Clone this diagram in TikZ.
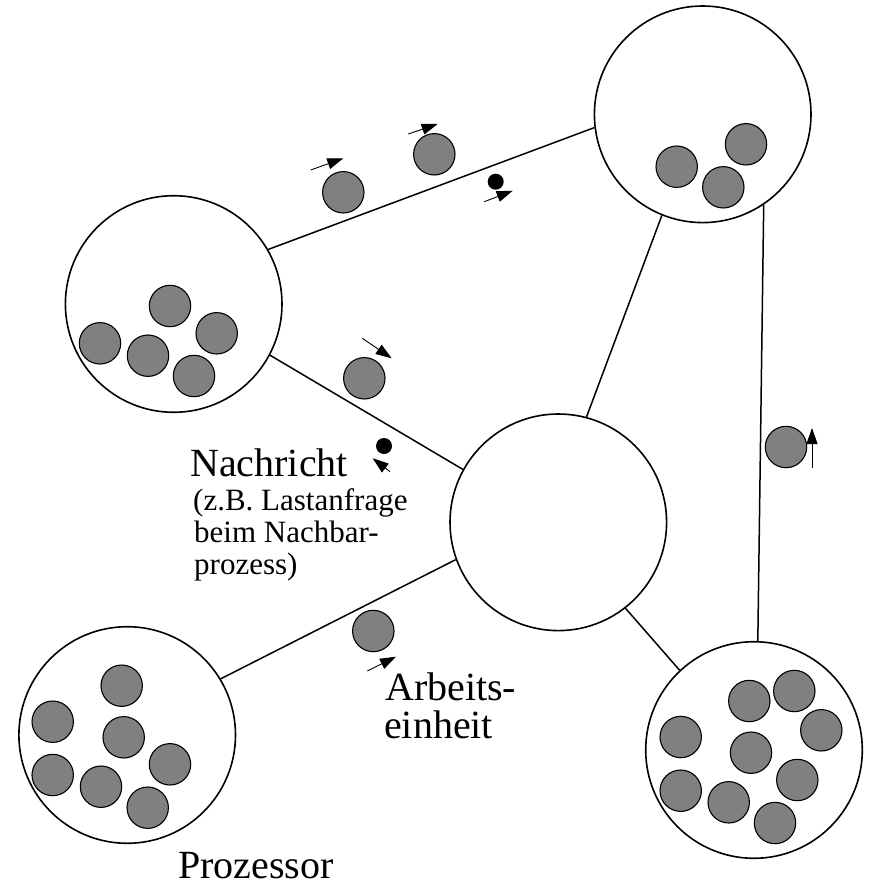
\documentclass[tikz,border=0pt]{standalone}
\usepackage{fontspec}
\setmainfont{Liberation Serif}
\usetikzlibrary{arrows.meta}
\definecolor{unitgray}{HTML}{808080}
\begin{document}
\begin{tikzpicture}[x=1pt,y=-1pt,
  proc/.style={circle,draw,line width=1.6pt,minimum size=216.6pt,inner sep=0pt},
  unit/.style={circle,draw=black,line width=1.1pt,fill=unitgray,minimum size=41.4pt,inner sep=0pt},
  msg/.style={circle,fill=black,minimum size=16pt,inner sep=0pt},
  link/.style={line width=1.5pt},
  move/.style={line width=0.9pt,-{Triangle[length=16pt,width=11pt]}},
  big/.style={font=\fontsize{40}{44}\selectfont,inner sep=0pt,anchor=base west},
  small/.style={font=\fontsize{31}{34}\selectfont,inner sep=0pt,anchor=base west}]
\useasboundingbox (0,0) rectangle (869,882);

% processors
\node[proc] (L)  at (173.7,304) {};
\node[proc] (TR) at (702.7,114.3) {};
\node[proc] (C)  at (558.3,522.3) {};
\node[proc] (BL) at (127.2,735) {};
\node[proc] (BR) at (754,750) {};

% links
\draw[link] (L.30.4) -- (TR.187.4);
\draw[link] (L.332.5) -- (C.151.3);
\draw[link] (TR.248.8) -- (C.75.3);
\draw[link] (TR.304.7) -- (BR.88.2);
\draw[link] (C.308.5) -- (BR.133);
\draw[link] (BL.31.7) -- (C.200);

% work units in L
\node[unit] (l1) at (170,306) {};
\node[unit] (l2) at (216.7,333.3) {};
\node[unit] (l3) at (100,343.3) {};
\node[unit] (l4) at (148,355.7) {};
\node[unit] (l5) at (194,376) {};
% work units in TR
\node[unit] (t1) at (676.7,166.7) {};
\node[unit] (t2) at (746,144.3) {};
\node[unit] (t3) at (723.3,187.3) {};
% work units in BL
\node[unit] (b1) at (121.7,685.7) {};
\node[unit] (b2) at (52.7,721.7) {};
\node[unit] (b3) at (123.7,737.3) {};
\node[unit] (b4) at (170,764.3) {};
\node[unit] (b5) at (52.7,775) {};
\node[unit] (b6) at (101,786.7) {};
\node[unit] (b7) at (147.7,807.7) {};
% work units in BR
\node[unit] (r1) at (749.3,701) {};
\node[unit] (r2) at (794.3,691) {};
\node[unit] (r3) at (821.3,730.3) {};
\node[unit] (r4) at (680.7,737) {};
\node[unit] (r5) at (751,752.7) {};
\node[unit] (r6) at (797.3,780) {};
\node[unit] (r7) at (680.7,790.7) {};
\node[unit] (r8) at (728.7,802.3) {};
\node[unit] (r9) at (775,823) {};

% travelling units and messages
\node[unit] (m1) at (343.3,192.3) {};
\node[unit] (m2) at (434.3,154.3) {};
\node[unit] (m3) at (364.3,378.3) {};
\node[unit] (m4) at (373.3,631) {};
\node[unit] (m5) at (786,447) {};
\node[msg] (n1) at (495.7,181.7) {};
\node[msg] (n2) at (384,446) {};

% motion arrows
\coordinate (a1s) at (310.7,170);   \coordinate (a1e) at (343.3,158.3);
\coordinate (a2s) at (408.3,134);   \coordinate (a2e) at (437.7,124);
\coordinate (a3s) at (484.3,201.7); \coordinate (a3e) at (512.7,190.7);
\coordinate (a4s) at (362.3,338.3); \coordinate (a4e) at (391.7,358.3);
\coordinate (a5s) at (390,471.7);   \coordinate (a5e) at (372.7,458.3);
\coordinate (a6s) at (367.3,671);   \coordinate (a6e) at (396,656.7);
\coordinate (a7s) at (812,468);     \coordinate (a7e) at (812,428);
\draw[move] (a1s) -- (a1e);
\draw[move] (a2s) -- (a2e);
\draw[move] (a3s) -- (a3e);
\draw[move] (a4s) -- (a4e);
\draw[move] (a5s) -- (a5e);
\draw[move] (a6s) -- (a6e);
\draw[move] (a7s) -- (a7e);

% labels
\node[big] (nach) at (190,476.7) {Nachricht};
\node[small] (s1) at (193,510.7) {(z.B. Lastanfrage};
\node[small] (s2) at (194,542.7) {beim Nachbar-};
\node[small] (s3) at (194,574) {prozess)};
\node[big] (arb1) at (385,700) {Arbeits-};
\node[big] (arb2) at (384,738.3) {einheit};
\node[big] (proz) at (178,878) {Prozessor};
\end{tikzpicture}
\end{document}
